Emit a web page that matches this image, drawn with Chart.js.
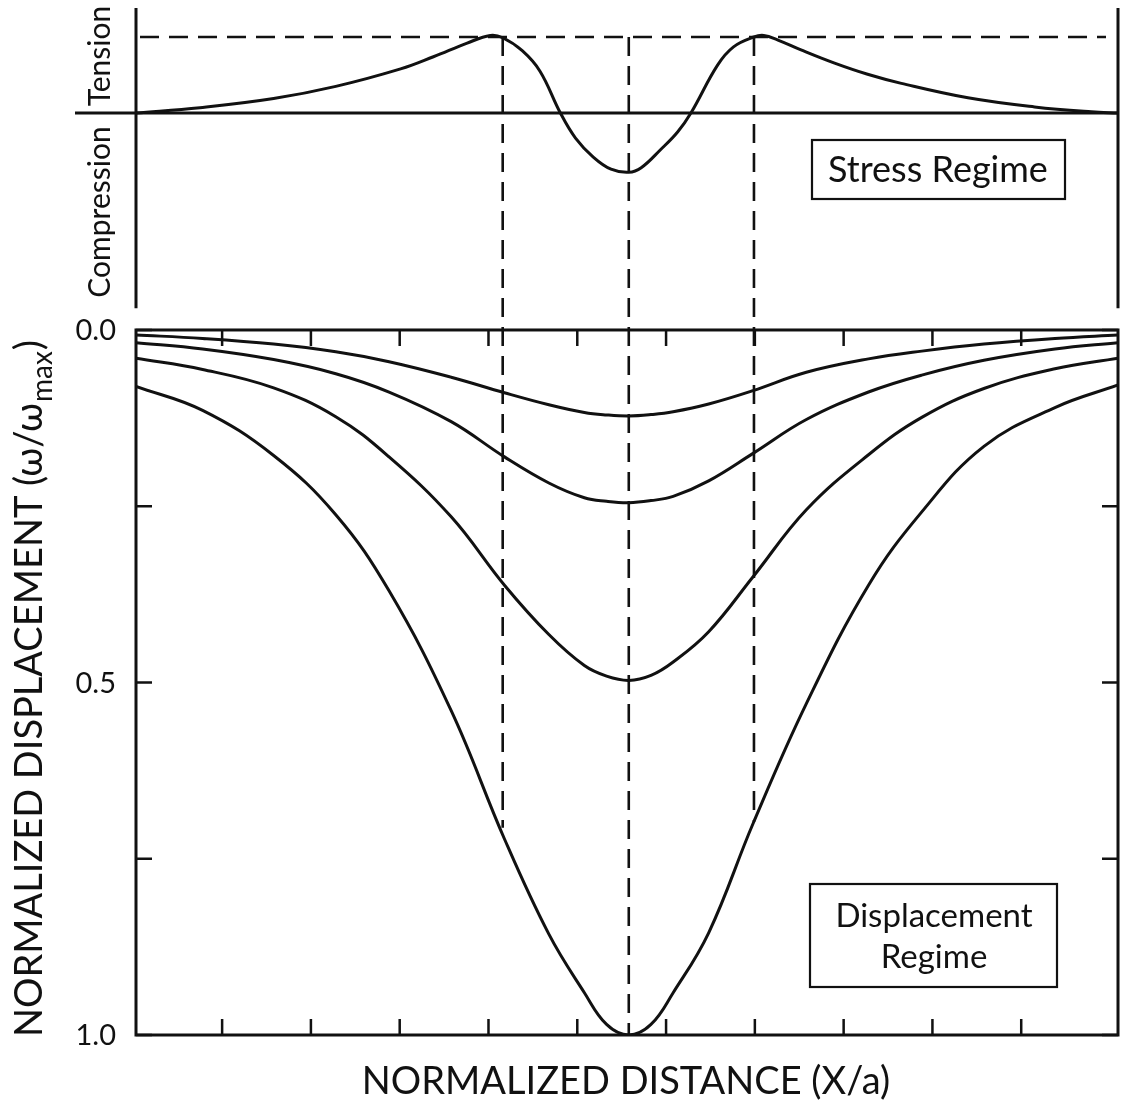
<!DOCTYPE html>
<html><head><meta charset="utf-8">
<script src="https://cdn.jsdelivr.net/npm/chart.js@4"></script>
<style>html,body{margin:0;padding:0;background:#fff;}canvas{display:block;}</style>
</head><body>
<canvas id="c" width="1132" height="1106"></canvas>
<script>
// ---- data ----
const distance = [-5.55, -4.8, -4, -3.3, -2.7, -2, -1.4, -0.9, -0.5, -0.25, 0, 0.25, 0.5, 0.9, 1.4, 2, 2.7, 3.3, 4, 4.8, 5.51];
const displacement1 = [0.007, 0.012, 0.020, 0.031, 0.045, 0.067, 0.089, 0.106, 0.117, 0.1205, 0.122, 0.120, 0.116, 0.105, 0.086, 0.060, 0.041, 0.030, 0.020, 0.012, 0.007];
const displacement2 = [0.018, 0.027, 0.042, 0.062, 0.088, 0.130, 0.180, 0.217, 0.238, 0.243, 0.245, 0.242, 0.236, 0.214, 0.175, 0.127, 0.088, 0.064, 0.043, 0.027, 0.018];
const displacement3 = [0.040, 0.056, 0.082, 0.123, 0.180, 0.265, 0.362, 0.432, 0.476, 0.491, 0.497, 0.490, 0.471, 0.428, 0.350, 0.255, 0.177, 0.124, 0.083, 0.055, 0.040];
const displacement4 = [0.080, 0.114, 0.178, 0.262, 0.370, 0.540, 0.722, 0.857, 0.940, 0.985, 1.000, 0.985, 0.940, 0.855, 0.700, 0.530, 0.362, 0.258, 0.165, 0.110, 0.078];

const stressDistance = [-5.55, -4.83, -4.0, -3.3, -2.57, -2.2, -1.82, -1.56, -1.42, -1.2, -1.0, -0.77, -0.6, -0.4, -0.2, 0, 0.14, 0.36, 0.55, 0.7, 1.0, 1.18, 1.41, 1.52, 1.68, 1.94, 2.31, 2.69, 3.07, 3.82, 4.57, 5.21, 5.51];
const stressValues   = [0, 0.07, 0.19, 0.35, 0.58, 0.74, 0.92, 1.02, 0.99, 0.82, 0.55, 0.0, -0.33, -0.58, -0.74, -0.78, -0.72, -0.48, -0.25, 0.0, 0.63, 0.87, 1.0, 1.02, 0.96, 0.83, 0.66, 0.51, 0.39, 0.2, 0.08, 0.015, 0];

const xTicks = [-4.58, -3.58, -2.58, -1.58, -0.58, 0.42, 1.42, 2.42, 3.42, 4.42];
const yTicks = [0, 0.25, 0.5, 0.75, 1.0];
const yTickLabels = ['0.0', '', '0.5', '', '1.0'];
const guideX = [-1.42, 0, 1.41];
const guideEnd = [0.706, 1.0, 0.698];
const stressPeak = 1.0;
const stressPanel = [-2.57, 1.38];   // stress-scale extent of the upper panel
const xRange = [-5.55, 5.51];

const FONT = 'Lato, "Open Sans", sans-serif';

function pts(xs, ys) { return xs.map((x, i) => ({x: x, y: ys[i]})); }
const curveStyle = {borderColor: '#111', borderWidth: 3, pointRadius: 0, fill: false, tension: 0.4};

const figurePlugin = {
  id: 'figure',
  beforeDatasetsDraw(chart) {
    const ctx = chart.ctx, x = chart.scales.x, yS = chart.scales.yS, yD = chart.scales.yD;
    const L = x.getPixelForValue(xRange[0]), R = x.getPixelForValue(xRange[1]);
    ctx.save();
    ctx.strokeStyle = '#111';
    ctx.lineCap = 'butt';
    ctx.lineWidth = 3;
    const sTop = yS.getPixelForValue(stressPanel[1]), sBot = yS.getPixelForValue(stressPanel[0]);
    ctx.beginPath();
    ctx.moveTo(L, sTop); ctx.lineTo(L, sBot);
    ctx.moveTo(R, sTop); ctx.lineTo(R, sBot);
    ctx.stroke();
    const z = yS.getPixelForValue(0);
    ctx.beginPath(); ctx.moveTo(L - 61, z); ctx.lineTo(R, z); ctx.stroke();
    const dTop = yD.getPixelForValue(0), dBot = yD.getPixelForValue(1);
    ctx.strokeRect(L, dTop, R - L, dBot - dTop);
    ctx.lineWidth = 2.5;
    ctx.beginPath();
    xTicks.forEach(v => {
      const px = x.getPixelForValue(v);
      ctx.moveTo(px, dTop); ctx.lineTo(px, dTop + 16);
      ctx.moveTo(px, dBot); ctx.lineTo(px, dBot - 16);
    });
    yTicks.forEach(v => {
      const py = yD.getPixelForValue(v);
      ctx.moveTo(L, py); ctx.lineTo(L + 16, py);
      ctx.moveTo(R, py); ctx.lineTo(R - 16, py);
    });
    ctx.stroke();
    ctx.setLineDash([19, 10]);
    ctx.lineWidth = 2.6;
    const pk = yS.getPixelForValue(stressPeak);
    ctx.beginPath();
    ctx.moveTo(L + 4, pk); ctx.lineTo(R - 12, pk);
    guideX.forEach((v, i) => {
      const px = x.getPixelForValue(v);
      ctx.moveTo(px, pk); ctx.lineTo(px, yD.getPixelForValue(guideEnd[i]));
    });
    ctx.stroke();
    ctx.restore();
  },
  afterDraw(chart) {
    const ctx = chart.ctx, yD = chart.scales.yD;
    ctx.save();
    ctx.fillStyle = '#111';
    ctx.strokeStyle = '#111';
    ctx.font = '29px ' + FONT;
    ctx.textAlign = 'right'; ctx.textBaseline = 'middle';
    yTicks.forEach((v, i) => { if (yTickLabels[i]) ctx.fillText(yTickLabels[i], 116, yD.getPixelForValue(v) + 1); });
    ctx.font = '38px ' + FONT;
    ctx.textAlign = 'center'; ctx.textBaseline = 'alphabetic';
    ctx.fillText('NORMALIZED DISTANCE (X/a)', 626, 1094);
    ctx.save();
    ctx.translate(42, 1037);
    ctx.rotate(-Math.PI / 2);
    ctx.textAlign = 'left';
    const main = 'NORMALIZED DISPLACEMENT (ω/ω';
    ctx.font = '38px ' + FONT;
    ctx.fillText(main, 0, 0);
    let w = ctx.measureText(main).width;
    ctx.font = '28px ' + FONT;
    ctx.fillText('max', w + 1, 10);
    w += ctx.measureText('max').width + 2;
    ctx.font = '38px ' + FONT;
    ctx.fillText(')', w, 0);
    ctx.restore();
    ctx.font = '30px ' + FONT;
    ctx.textAlign = 'center'; ctx.textBaseline = 'alphabetic';
    [['Tension', 56], ['Compression', 212]].forEach(([t, cy]) => {
      ctx.save(); ctx.translate(110, cy); ctx.rotate(-Math.PI / 2); ctx.fillText(t, 0, 0); ctx.restore();
    });
    ctx.lineWidth = 2.2;
    ctx.strokeRect(812, 140, 253, 59);
    ctx.font = '36px ' + FONT;
    ctx.fillText('Stress Regime', 938, 182);
    ctx.strokeRect(810, 884, 247, 103);
    ctx.font = '33px ' + FONT;
    ctx.fillText('Displacement', 934, 927);
    ctx.fillText('Regime', 934, 968);
    ctx.restore();
  }
};

new Chart(document.getElementById('c'), {
  type: 'line',
  data: {
    datasets: [
      Object.assign({label: 'stress', data: pts(stressDistance, stressValues), yAxisID: 'yS'}, curveStyle),
      Object.assign({label: 'd1', data: pts(distance, displacement1), yAxisID: 'yD'}, curveStyle),
      Object.assign({label: 'd2', data: pts(distance, displacement2), yAxisID: 'yD'}, curveStyle),
      Object.assign({label: 'd3', data: pts(distance, displacement3), yAxisID: 'yD'}, curveStyle),
      Object.assign({label: 'd4', data: pts(distance, displacement4), yAxisID: 'yD'}, curveStyle)
    ]
  },
  options: {
    responsive: false,
    animation: false,
    events: [],
    layout: {padding: {left: 136, right: 14, top: 8, bottom: 71}},
    plugins: {legend: {display: false}, tooltip: {enabled: false}},
    scales: {
      x: {type: 'linear', min: xRange[0], max: xRange[1], display: false},
      yS: {type: 'linear', min: -12.132, max: 1.3816, display: false},
      yD: {type: 'linear', min: -0.4567, max: 1.0, reverse: true, display: false}
    }
  },
  plugins: [figurePlugin]
});
</script>
</body></html>
